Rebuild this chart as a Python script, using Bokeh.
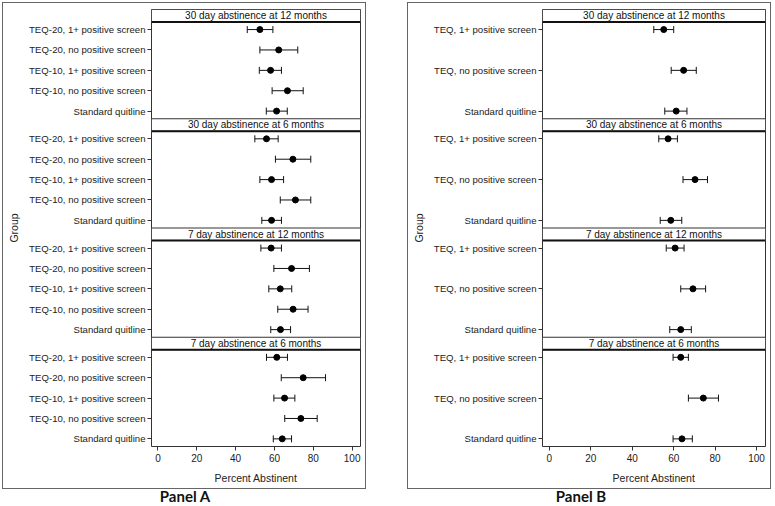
from bokeh.plotting import figure
from bokeh.models import (Range1d, FixedTicker, ColumnDataSource, Whisker,
                          BoxAnnotation, Span, Div, TeeHead)
from bokeh.layouts import row, column
from bokeh.core.properties import value
from bokeh.embed import file_html
from bokeh.resources import INLINE

# ---------------- data ----------------
outcomes = ["30 day abstinence at 12 months", "30 day abstinence at 6 months",
            "7 day abstinence at 12 months", "7 day abstinence at 6 months"]

groups_a = ["TEQ-20, 1+ positive screen", "TEQ-20, no positive screen",
            "TEQ-10, 1+ positive screen", "TEQ-10, no positive screen",
            "Standard quitline"]
est_a = [[52.5, 62.2, 58.0, 66.7, 61.1],
         [55.9, 69.5, 58.5, 70.8, 58.5],
         [58.3, 68.8, 63.0, 69.6, 63.1],
         [61.2, 74.8, 65.2, 73.6, 64.0]]
lo_a = [[46.0, 52.5, 52.2, 58.8, 55.8],
        [49.9, 60.5, 52.5, 63.0, 53.5],
        [53.0, 59.7, 57.1, 61.7, 58.1],
        [55.9, 63.5, 59.7, 65.3, 59.4]]
hi_a = [[59.2, 72.0, 63.6, 74.8, 66.6],
        [61.9, 78.7, 64.7, 78.7, 63.6],
        [63.6, 78.0, 68.9, 77.3, 68.3],
        [66.7, 86.3, 70.5, 82.0, 68.8]]

groups_b = ["TEQ, 1+ positive screen", "TEQ, no positive screen", "Standard quitline"]
est_b = [[55.2, 64.8, 61.2],
         [57.3, 70.3, 58.6],
         [60.7, 69.3, 63.4],
         [63.4, 74.3, 64.0]]
lo_b = [[50.4, 58.8, 55.7],
        [52.8, 64.5, 53.5],
        [56.4, 63.4, 58.1],
        [59.7, 67.1, 59.7]]
hi_b = [[60.0, 70.9, 66.4],
        [61.8, 76.3, 63.9],
        [65.0, 75.4, 68.5],
        [67.1, 81.6, 69.0]]

x_ticks = [0, 20, 40, 60, 80, 100]

# ---------------- layout constants (in row-spacing units) ----------------
HEADER = 0.61
PAD = 0.374
SPAN = 4.0
BLOCK = HEADER + 2 * PAD + SPAN
FONT = "Liberation Sans"
DARK = "#333333"


def make_panel(groups, est, lo, hi, width, min_left, min_right, label_standoff, margin):
    n = len(groups)
    step = SPAN / (n - 1)
    ys, es, ls, hs, names = [], [], [], [], []
    for f in range(len(outcomes)):
        for i in range(n):
            ys.append(round(f * BLOCK + HEADER + PAD + i * step, 4))
            es.append(est[f][i])
            ls.append(lo[f][i])
            hs.append(hi[f][i])
            names.append(groups[i])
    src = ColumnDataSource(dict(y=ys, est=es, lo=ls, hi=hs))

    p = figure(width=width, height=487,
               x_range=Range1d(-3.3, 104.3),
               y_range=Range1d(round(BLOCK * len(outcomes), 4), 0),
               output_backend="svg", toolbar_location=None,
               min_border_left=min_left, min_border_right=min_right,
               min_border_top=6, min_border_bottom=44,
               background_fill_color="white", border_fill_color="white",
               outline_line_color=DARK, outline_line_width=1,
               margin=margin,
               styles={"border": "1px solid #666666"})
    p.xgrid.visible = False
    p.ygrid.visible = False

    # facet header strips
    hy = []
    for f in range(len(outcomes)):
        top = f * BLOCK
        p.add_layout(BoxAnnotation(top=top, bottom=top + HEADER,
                                   fill_color="white", fill_alpha=1.0,
                                   line_color="#333333", line_alpha=1.0,
                                   line_width=1, level="underlay"))
        p.add_layout(Span(location=top + HEADER, dimension="width",
                          line_color="#111111", line_width=2))
        hy.append(top + HEADER / 2)
    hsrc = ColumnDataSource(dict(x=[50.5] * len(outcomes), y=hy, t=outcomes))
    p.text(x="x", y="y", text="t", source=hsrc, text_align="center",
           text_baseline="middle", text_font=value(FONT),
           text_font_size="10px", text_color="#111111")

    # error bars and points
    p.add_layout(Whisker(source=src, base="y", lower="lo", upper="hi",
                         dimension="width", line_color="#111111", line_width=1,
                         upper_head=TeeHead(size=7, line_color="#111111", line_width=1),
                         lower_head=TeeHead(size=7, line_color="#111111", line_width=1)))
    p.scatter(x="est", y="y", source=src, size=6, color="black")

    # axes
    p.yaxis.ticker = FixedTicker(ticks=ys)
    p.yaxis.major_label_overrides = {y: nm for y, nm in zip(ys, names)}
    p.xaxis.ticker = FixedTicker(ticks=x_ticks)
    p.xaxis.axis_label = "Percent Abstinent"
    p.yaxis.axis_label = "Group"
    for ax in p.axis:
        ax.axis_line_color = None
        ax.major_tick_line_color = DARK
        ax.major_tick_out = 4
        ax.major_tick_in = 0
        ax.minor_tick_line_color = None
        ax.major_label_text_font = FONT
        ax.major_label_text_color = "#222222"
        ax.axis_label_text_font = FONT
        ax.axis_label_text_font_style = "normal"
        ax.axis_label_text_font_size = "10.5px"
        ax.axis_label_text_color = "#222222"
    p.yaxis.major_label_text_font_size = "9.6px"
    p.xaxis.major_label_text_font_size = "10px"
    p.yaxis.major_label_standoff = 2
    p.xaxis.major_label_standoff = 3
    p.xaxis.axis_label_standoff = 7
    p.yaxis.axis_label_standoff = label_standoff
    return p


pa = make_panel(groups_a, est_a, lo_a, hi_a, 364, 148, 7, 6, (2, 0, 0, 2))
pb = make_panel(groups_b, est_b, lo_b, hi_b, 364, 134, 7, 6, (2, 0, 0, 0))

div_style = {"font-family": "Lato", "font-weight": "bold", "font-size": "15px",
             "color": "#111111", "text-align": "center", "line-height": "14px"}
da = Div(text="Panel A", width=366, height=14, margin=(0, 0, 0, 2), styles=div_style)
db = Div(text="Panel B", width=348, height=14, margin=(0, 0, 0, 0), styles=div_style)

layout = row(column(pa, da, spacing=0), column(pb, db, spacing=0), spacing=39)

with open("out.html", "w") as fh:
    fh.write(file_html(layout, INLINE))
